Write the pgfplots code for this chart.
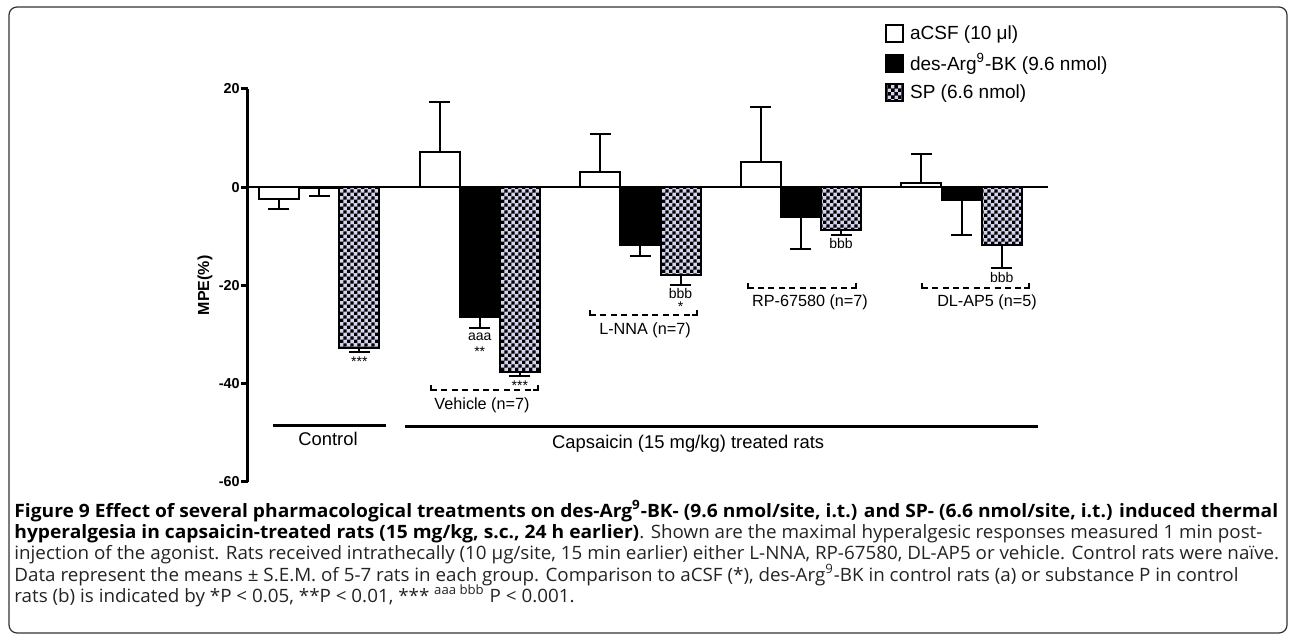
\documentclass[border=0pt]{standalone}
\usepackage{pgfplots}
\pgfplotsset{compat=1.18}
\usepackage{fontspec}
\setmainfont{Liberation Sans}
\newfontfamily\capfont[FakeStretch=1.022, BoldFeatures={FakeStretch=1.044}]{Open Sans}
\usetikzlibrary{patterns}
\pgfdeclarepatternformonly{mycheck}{\pgfpointorigin}{\pgfqpoint{3.4pt}{3.4pt}}{\pgfqpoint{3.4pt}{3.4pt}}{%
  \pgfpathrectangle{\pgfpointorigin}{\pgfqpoint{1.75pt}{1.75pt}}%
  \pgfpathrectangle{\pgfqpoint{1.7pt}{1.7pt}}{\pgfqpoint{1.75pt}{1.75pt}}%
  \pgfusepath{fill}}
\definecolor{spbg}{RGB}{212,212,238}
\definecolor{framegray}{RGB}{50,50,50}
\definecolor{captext}{RGB}{35,35,35}

\begin{document}
\begin{tikzpicture}
\begin{axis}[
  name=ax,
  x=20.075pt, y=2.4575pt,
  xmin=-0.772, xmax=19.15, ymin=-60, ymax=20,
  axis x line=none,
  axis y line*=left,
  axis line style={line width=1.5pt},
  xtick=\empty,
  ytick={-60,-40,-20,0,20},
  yticklabels={-60,-40,-20,0,20},
  yticklabel style={font=\bfseries\fontsize{7.2}{8}\selectfont, inner sep=0.5pt},
  tick align=outside,
  major tick length=3.5pt,
  tick style={line width=1.5pt, black},
  every axis y label/.style={at={(axis description cs:-0.0538,0.5)}, rotate=90, anchor=center},
  ylabel={\bfseries\fontsize{8}{9}\selectfont MPE(\%)},
  ybar, bar width=20pt, bar shift=0pt,
  clip=false,
  error bars/error bar style={line width=1pt, black},
  error bars/error mark options={rotate=90, line width=1pt, mark size=5.25pt, black},
  legend style={draw=none, fill=none, at={(axis description cs:0.796,1.167)}, anchor=north west,
    font=\fontsize{9.5}{11}\selectfont, row sep=3.5pt, inner sep=0pt,
    nodes={inner xsep=3pt, inner ysep=1pt}},
  legend cell align=left,
  legend image code/.code={\draw[#1, line width=1pt] (0pt,-4.25pt) rectangle (8.5pt,4.25pt);},
]
\addplot[fill=white, draw=black, line width=1pt, error bars/y dir=plus, error bars/y explicit]
 coordinates {(4,7.2) +- (0,10.2) (8,3.1) +- (0,7.8) (12,5.2) +- (0,11.1) (16,0.8) +- (0,5.9)};
\addlegendentry{aCSF (10 μl)}
\addplot[fill=white, draw=black, line width=1pt, error bars/y dir=minus, error bars/y explicit, forget plot]
 coordinates {(0,-2.4) +- (0,2.1)};
\addplot[fill=black, draw=black, line width=1pt, error bars/y dir=minus, error bars/y explicit]
 coordinates {(1,-0.2) +- (0,1.7) (5,-26.5) +- (0,2.1) (9,-11.7) +- (0,2.3) (13,-6.1) +- (0,6.4) (17,-2.7) +- (0,7.1)};
\addlegendentry{des-Arg\textsuperscript{9}-BK (9.6 nmol)}
\addplot[fill=spbg, draw=black, line width=1pt, postaction={pattern=mycheck}, error bars/y dir=minus, error bars/y explicit]
 coordinates {(2,-32.7) +- (0,0.9) (6,-37.6) +- (0,0.8) (10,-17.9) +- (0,2.0) (14,-8.8) +- (0,1.0) (18,-11.8) +- (0,4.6)};
\addlegendentry{SP (6.6 nmol)}

% x axis line at zero
\draw[line width=1.4pt] (axis cs:-0.772,0) -- (axis cs:19.15,0);

% significance annotations
\begin{scope}[every node/.style={font=\fontsize{7}{8}\selectfont, anchor=north, inner sep=0pt}]
\node at (axis cs:2,-34.45) {***};
\node at (axis cs:5,-29.62) {aaa};
\node at (axis cs:5,-32.35) {**};
\node at (axis cs:6,-39.33) {***};
\node at (axis cs:10,-20.61) {bbb};
\node at (axis cs:10,-23.19) {*};
\node at (axis cs:14,-10.3) {bbb};
\node at (axis cs:18,-17.21) {bbb};
\end{scope}

% dashed brackets
\begin{scope}[line width=1pt]
\draw[dash pattern=on 3pt off 2.2pt] (axis cs:3.786,-41.3) -- (axis cs:6.45,-41.3);
\draw (axis cs:3.786,-40.3) -- (axis cs:3.786,-41.3) -- (axis cs:3.9,-41.3);
\draw (axis cs:6.45,-40.3) -- (axis cs:6.45,-41.3) -- (axis cs:6.336,-41.3);
\draw[dash pattern=on 3pt off 2.2pt] (axis cs:7.746,-26.1) -- (axis cs:10.41,-26.1);
\draw (axis cs:7.746,-25.1) -- (axis cs:7.746,-26.1) -- (axis cs:7.86,-26.1);
\draw (axis cs:10.41,-25.1) -- (axis cs:10.41,-26.1) -- (axis cs:10.296,-26.1);
\draw[dash pattern=on 3pt off 2.2pt] (axis cs:11.67,-20.47) -- (axis cs:14.37,-20.47);
\draw (axis cs:11.67,-19.47) -- (axis cs:11.67,-20.47) -- (axis cs:11.784,-20.47);
\draw (axis cs:14.37,-19.47) -- (axis cs:14.37,-20.47) -- (axis cs:14.256,-20.47);
\draw[dash pattern=on 3pt off 2.2pt] (axis cs:16.01,-20.47) -- (axis cs:18.68,-20.47);
\draw (axis cs:16.01,-19.47) -- (axis cs:16.01,-20.47) -- (axis cs:16.124,-20.47);
\draw (axis cs:18.68,-19.47) -- (axis cs:18.68,-20.47) -- (axis cs:18.566,-20.47);
\end{scope}

% group labels
\begin{scope}[every node/.style={font=\fontsize{8.1}{9}\selectfont, anchor=base, inner sep=0pt}]
\node at (axis cs:5.056,-45.2) {Vehicle (n=7)};
\node at (axis cs:9.116,-29.97) {L-NNA (n=7)};
\node at (axis cs:13.225,-24.2) {RP-67580 (n=7)};
\node at (axis cs:17.634,-24.2) {DL-AP5 (n=5)};
\end{scope}

% treatment lines
\draw[line width=1.5pt] (axis cs:-0.149,-48.6) -- (axis cs:2.665,-48.6);
\draw[line width=1.5pt] (axis cs:3.138,-48.8) -- (axis cs:18.9,-48.8);
\node[font=\fontsize{9.2}{10}\selectfont, anchor=base, inner sep=0pt] at (axis cs:1.22,-52.55) {Control};
\node[font=\fontsize{9.2}{10}\selectfont, anchor=base, inner sep=0pt] at (axis cs:10.19,-53.1) {Capsaicin (15 mg/kg) treated rats};
\end{axis}

% caption
\begin{scope}[shift={(ax.south west)}, every node/.style={anchor=base west, inner sep=0pt, text=captext, font=\capfont\fontsize{9.2}{10.6}\selectfont}]
\node at (-117pt,-17.65pt) {\bfseries\color{black}Figure 9 Effect of several pharmacological treatments on des-Arg\textsuperscript{9}-BK- (9.6 nmol/site, i.t.) and SP- (6.6 nmol/site, i.t.) induced thermal};
\node at (-117pt,-28.3pt) {\textbf{\color{black}hyperalgesia in capsaicin-treated rats (15 mg/kg, s.c., 24 h earlier)}. Shown are the maximal hyperalgesic responses measured 1 min post-};
\node at (-117pt,-38.95pt) {injection of the agonist. Rats received intrathecally (10 µg/site, 15 min earlier) either L-NNA, RP-67580, DL-AP5 or vehicle. Control rats were naïve.};
\node at (-117pt,-49.55pt) {Data represent the means ± S.E.M. of 5-7 rats in each group. Comparison to aCSF (*), des-Arg\textsuperscript{9}-BK in control rats (a) or substance P in control};
\node at (-117pt,-60.2pt) {rats (b) is indicated by *P < 0.05, **P < 0.01, *** \textsuperscript{aaa bbb} P < 0.001.};
\draw[framegray, line width=0.6pt, rounded corners=4pt] (-119.5pt,237.5pt) rectangle (519.5pt,-75.5pt);
\end{scope}
\pgfresetboundingbox
\useasboundingbox ([shift={(-124pt,241pt)}]ax.south west) rectangle ([shift={(521pt,-77pt)}]ax.south west);
\end{tikzpicture}
\end{document}
